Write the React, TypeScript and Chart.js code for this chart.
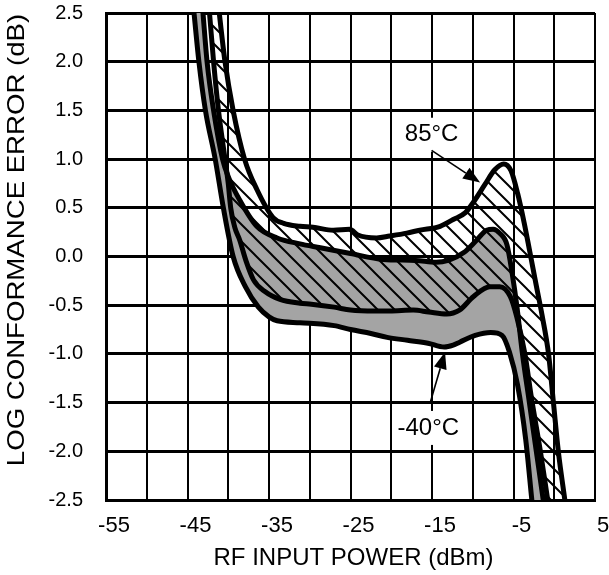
import React, { useEffect, useRef } from 'react';
import { Chart, registerables } from 'chart.js';

Chart.register(...registerables);

const FONT = '"Liberation Sans", Arial, Helvetica, sans-serif';

// Axis grid / tick labels
const X_GRID = [-55, -50, -45, -40, -35, -30, -25, -20, -15, -10, -5, 0, 5];
const X_LABELS = [-55, -45, -35, -25, -15, -5, 5];
const Y_GRID = [-2.5, -2, -1.5, -1, -0.5, 0, 0.5, 1, 1.5, 2, 2.5];
const X_TITLE = 'RF INPUT POWER (dBm)';
const Y_TITLE = 'LOG CONFORMANCE ERROR (dB)';

// 85°C upper bound
const HOT_UPPER_X = [-43.0, -41.1, -40.4, -39.4, -38.0, -36.5, -34.5, -33.2, -31.2, -29.6, -27.1, -25.1, -24.1, -21.8, -20.2, -18.1, -16.5, -14.0, -12.4, -10.9, -9.9, -8.5, -7.3, -6.2, -5.3, -4.5, -3.7, -3.0, -2.2, -1.5, -0.7, -0.1, 0.5, 1.3, 3.7];
const HOT_UPPER_Y = [4.0, 2.5, 2.0, 1.5, 1.0, 0.69, 0.40, 0.34, 0.31, 0.30, 0.27, 0.28, 0.22, 0.19, 0.21, 0.24, 0.27, 0.31, 0.38, 0.45, 0.56, 0.74, 0.89, 0.95, 0.88, 0.65, 0.35, 0.05, -0.3, -0.6, -1.0, -1.5, -2.0, -2.5, -4.0];

// -40°C upper bound
const COLD_UPPER_X = [-44.6, -43.1, -42.6, -41.8, -40.7, -39.9, -38.6, -36.5, -34.0, -31.2, -28.7, -25.0, -21.0, -17.0, -14.5, -13.0, -11.1, -9.5, -8.3, -7.5, -6.7, -5.8, -5.15, -4.6, -3.9, -3.05, -2.2, -1.35, 0.3];
const COLD_UPPER_Y = [4.0, 2.5, 2.0, 1.5, 1.0, 0.8, 0.58, 0.31, 0.19, 0.13, 0.09, 0.03, -0.03, -0.04, -0.06, -0.04, 0.04, 0.17, 0.27, 0.28, 0.24, 0.12, -0.18, -0.5, -1.0, -1.5, -2.0, -2.5, -3.5];

// 85°C lower bound
const HOT_LOWER_X = [-43.9, -42.3, -41.8, -41.2, -40.4, -40.0, -39.7, -39.2, -38.6, -37.8, -36.9, -35.5, -33.65, -31.2, -29.8, -27.0, -25.0, -22.0, -20.2, -17.3, -15.4, -13.2, -12.4, -11.6, -9.9, -7.9, -6.7, -5.4, -4.6, -3.6, -2.8, -1.7, -0.8, 1.9];
const HOT_LOWER_Y = [4.0, 2.5, 2.0, 1.5, 1.0, 0.75, 0.5, 0.3, 0.17, -0.05, -0.24, -0.36, -0.44, -0.48, -0.49, -0.52, -0.55, -0.56, -0.56, -0.55, -0.57, -0.59, -0.58, -0.55, -0.41, -0.31, -0.31, -0.41, -0.62, -1.0, -1.45, -2.0, -2.5, -4.0];

// -40°C lower bound
const COLD_LOWER_X = [-46.0, -44.2, -43.6, -42.8, -41.6, -40.6, -39.4, -37.9, -36.3, -35.0, -34.0, -31.2, -27.0, -25.0, -22.5, -20.5, -18.0, -15.5, -13.5, -12.4, -11.6, -9.7, -7.8, -6.4, -5.5, -4.5, -3.5, -2.75, -0.3];
const COLD_LOWER_Y = [4.0, 2.5, 2.0, 1.5, 1.0, 0.5, 0.0, -0.31, -0.52, -0.62, -0.66, -0.68, -0.71, -0.75, -0.79, -0.83, -0.86, -0.89, -0.93, -0.91, -0.88, -0.81, -0.78, -0.81, -0.98, -1.32, -1.88, -2.5, -4.5];

// Callouts: label position and arrow (from -> to) in data units
const CALLOUT_TEXT = ['85°C', '-40°C'];
const CALLOUT_LABEL_X = [-15.05, -15.45];
const CALLOUT_LABEL_Y = [1.25, -1.76];
const CALLOUT_FROM_X = [-15.05, -15.25];
const CALLOUT_FROM_Y = [1.09, -1.51];
const CALLOUT_TO_X = [-9.1, -13.4];
const CALLOUT_TO_Y = [0.76, -0.98];

const toPts = (xs: number[], ys: number[]) => xs.map((x, i) => ({ x, y: ys[i] }));

function makeHatch(): CanvasPattern | string {
  const s = 17;
  const c = document.createElement('canvas');
  c.width = s;
  c.height = s;
  const g = c.getContext('2d');
  if (!g) return 'rgba(0,0,0,0.2)';
  g.strokeStyle = '#000';
  g.lineWidth = 2;
  g.beginPath();
  for (const k of [-1, 0, 1]) {
    g.moveTo(k * s - 3, -3);
    g.lineTo(k * s + s + 3, s + 3);
  }
  g.stroke();
  const p = g.createPattern(c, 'repeat');
  return p || 'rgba(0,0,0,0.2)';
}

function drawArrow(ctx: CanvasRenderingContext2D, x0: number, y0: number, x1: number, y1: number) {
  const ang = Math.atan2(y1 - y0, x1 - x0);
  const L = 17;
  const W = 6.5;
  const bx = x1 - L * Math.cos(ang);
  const by = y1 - L * Math.sin(ang);
  ctx.beginPath();
  ctx.moveTo(x0, y0);
  ctx.lineTo(bx, by);
  ctx.lineWidth = 1.6;
  ctx.stroke();
  ctx.beginPath();
  ctx.moveTo(x1, y1);
  ctx.lineTo(bx + W * Math.sin(ang), by - W * Math.cos(ang));
  ctx.lineTo(bx - W * Math.sin(ang), by + W * Math.cos(ang));
  ctx.closePath();
  ctx.fill();
}

const overlayPlugin = {
  id: 'overlay',
  afterDraw(chart: any) {
    const { ctx, chartArea, scales } = chart;
    const xs = scales.x;
    const ys = scales.y;
    ctx.save();
    ctx.font = `24px ${FONT}`;
    ctx.textAlign = 'center';
    ctx.textBaseline = 'middle';
    for (let i = 0; i < CALLOUT_TEXT.length; i++) {
      const tx = xs.getPixelForValue(CALLOUT_LABEL_X[i]);
      const ty = ys.getPixelForValue(CALLOUT_LABEL_Y[i]);
      const w = ctx.measureText(CALLOUT_TEXT[i]).width;
      ctx.fillStyle = '#fff';
      ctx.fillRect(tx - w / 2 - 5, ty - 17, w + 10, 34);
      ctx.fillStyle = '#000';
      ctx.fillText(CALLOUT_TEXT[i], tx, ty);
      ctx.strokeStyle = '#000';
      drawArrow(
        ctx,
        xs.getPixelForValue(CALLOUT_FROM_X[i]),
        ys.getPixelForValue(CALLOUT_FROM_Y[i]),
        xs.getPixelForValue(CALLOUT_TO_X[i]),
        ys.getPixelForValue(CALLOUT_TO_Y[i])
      );
    }
    // axis titles
    ctx.fillStyle = '#000';
    ctx.font = `24px ${FONT}`;
    ctx.fillText(X_TITLE, (chartArea.left + chartArea.right) / 2 + 3, 558);
    ctx.save();
    ctx.translate(17, 240);
    ctx.rotate(-Math.PI / 2);
    ctx.scale(1.15, 1);
    ctx.fillText(Y_TITLE, 0, 0);
    ctx.restore();
    ctx.restore();
  },
};

export default function App() {
  const ref = useRef<HTMLCanvasElement | null>(null);

  useEffect(() => {
    if (!ref.current) return;
    const hatch = makeHatch();
    const lineStyle = {
      borderColor: '#000',
      borderWidth: 5,
      pointRadius: 0,
      cubicInterpolationMode: 'monotone' as const,
      borderJoinStyle: 'round' as const,
      borderCapStyle: 'round' as const,
      clip: 0,
    };
    const chart = new Chart(ref.current, {
      type: 'line',
      data: {
        datasets: [
          { ...lineStyle, label: '85°C upper', data: toPts(HOT_UPPER_X, HOT_UPPER_Y), fill: 2, backgroundColor: hatch as any },
          { ...lineStyle, label: '-40°C upper', data: toPts(COLD_UPPER_X, COLD_UPPER_Y), fill: 3, backgroundColor: '#a4a4a4' },
          { ...lineStyle, label: '85°C lower', data: toPts(HOT_LOWER_X, HOT_LOWER_Y), fill: false },
          { ...lineStyle, label: '-40°C lower', data: toPts(COLD_LOWER_X, COLD_LOWER_Y), fill: false },
        ],
      },
      options: {
        responsive: false,
        animation: false,
        devicePixelRatio: 1,
        layout: { padding: { left: 0, right: 14, top: 13, bottom: 0 } },
        plugins: {
          legend: { display: false },
          tooltip: { enabled: false },
          filler: { propagate: false, drawTime: 'beforeDatasetsDraw' },
        },
        scales: {
          x: {
            type: 'linear',
            min: -55,
            max: 5,
            z: 1,
            afterBuildTicks: (scale: any) => {
              scale.ticks = X_GRID.map((v) => ({ value: v }));
            },
            afterFit: (scale: any) => {
              scale.height = 75;
              scale.paddingLeft = 0;
              scale.paddingRight = 0;
            },
            ticks: {
              autoSkip: false,
              maxRotation: 0,
              minRotation: 0,
              padding: 13,
              labelOffset: 8,
              color: '#000',
              font: { family: FONT, size: 22 },
              callback: (v: any) => (X_LABELS.includes(Number(v)) ? String(v) : ''),
            },
            grid: { color: '#000', lineWidth: 2, drawTicks: false },
            border: { display: true, color: '#000', width: 3 },
          },
          y: {
            type: 'linear',
            min: -2.5,
            max: 2.5,
            z: 1,
            afterBuildTicks: (scale: any) => {
              scale.ticks = Y_GRID.map((v) => ({ value: v }));
            },
            afterFit: (scale: any) => {
              scale.width = 106;
              scale.paddingTop = 0;
              scale.paddingBottom = 0;
            },
            ticks: {
              autoSkip: false,
              padding: 23,
              color: '#000',
              font: { family: FONT, size: 20 },
              callback: (v: any) => (Math.abs(Number(v)) < 1e-9 ? '0.0' : Number(v).toFixed(1)),
            },
            grid: { color: '#000', lineWidth: 3, drawTicks: false },
            border: { display: true, color: '#000', width: 3 },
          },
        },
      },
      plugins: [overlayPlugin],
    } as any);
    return () => chart.destroy();
  }, []);

  return (
    <div style={{ position: 'absolute', left: 0, top: 0, width: 609, height: 575, background: '#fff' }}>
      <canvas ref={ref} width={609} height={575} style={{ display: 'block', width: 609, height: 575 }} />
    </div>
  );
}
